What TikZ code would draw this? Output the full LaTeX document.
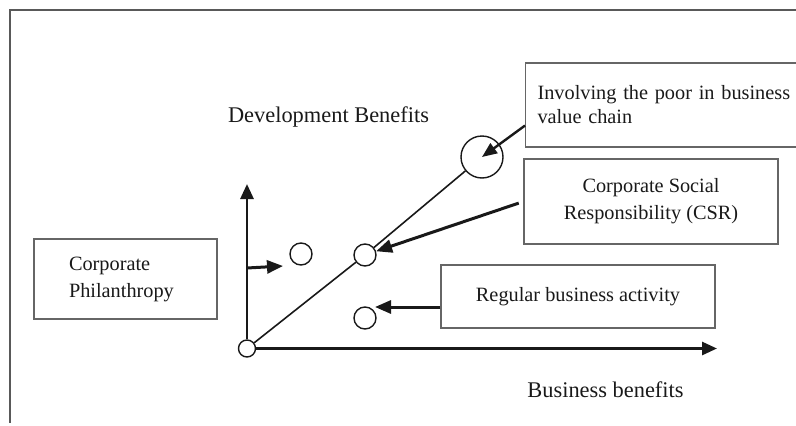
\documentclass[tikz,border=0pt]{standalone}
\usepackage{fontspec}
\setmainfont{Liberation Serif}
\usetikzlibrary{arrows.meta}
\begin{document}
\begin{tikzpicture}[x=1pt,y=-1pt,
  frame/.style={draw=black!65, line width=1.2pt},
  box/.style={draw=black!60, line width=1.1pt, inner sep=0pt, font=\fontsize{20.3}{27}\selectfont, text=black!90},
  ring/.style={circle, draw=black!90, line width=1.4pt, fill=white, inner sep=0pt},
  axis/.style={draw=black!90, line width=2.8pt, -{Triangle[length=15pt,width=13pt]}},
  pointer/.style={draw=black!90, line width=3pt, -{Triangle[length=16pt,width=13pt]}},
  thinpointer/.style={draw=black!90, line width=2.4pt, -{Triangle[length=15pt,width=12pt]}},
  diag/.style={draw=black!90, line width=1.6pt},
  lab/.style={font=\fontsize{22.4}{27}\selectfont, text=black!90}
]
\useasboundingbox (0,0) rectangle (796,426);

% frame
\coordinate (fa) at (10,10);
\coordinate (fb) at (797,10);
\coordinate (fc) at (10,423);
\draw[frame] (fb) -- (fa) -- (fc);

% boxes
\node[box, minimum width=183pt, minimum height=80pt, text width=113pt, inner xsep=35pt, align=left] (cp) at (125.5,279) {Corporate\\Philanthropy};
\node[box, minimum width=254pt, minimum height=85pt, align=center] (csr) at (651,201.5) {Corporate Social\\Responsibility (CSR)};
\node[box, minimum width=274pt, minimum height=63pt] (reg) at (578,296.5) {Regular business activity};
\node[box, anchor=west, minimum width=300pt, minimum height=84pt, text width=276pt, inner xsep=12pt, align=left, font=\fontsize{20.3}{24}\selectfont] (inv) at (525,105) {Involving the poor in business\\value chain};

% circles
\node[ring, minimum size=17pt] (o) at (247,348.5) {};
\node[ring, minimum size=22pt] (mid) at (365,255) {};
\node[ring, minimum size=22pt] (phil) at (301,254) {};
\node[ring, minimum size=22pt] (low) at (365,318) {};
\node[ring, minimum size=42pt] (big) at (482,157) {};

% axes
\coordinate (ytip) at (247,184);
\coordinate (xtip) at (717,348.5);
\draw[axis] (o.north) -- (ytip);
\draw[axis] (o.east) -- (xtip);

% diagonal
\draw[diag] (o) -- (mid);
\draw[diag] (mid) -- (big);

% pointers
\coordinate (pa) at (247,268);
\coordinate (pt) at (283,266);
\draw[pointer] (pa) -- (pt);
\draw[pointer, shorten <=5pt] (csr.west) -- (mid);
\draw[thinpointer] ([yshift=22pt]inv.south west) -- (big.center);
\coordinate (rt) at (375,307);
\draw[pointer] (reg.west |- rt) -- (rt);

% axis labels
\node[lab, anchor=base] (db) at (328.5,122) {Development Benefits};
\node[lab, anchor=base] (bb) at (605.5,397) {Business benefits};
\end{tikzpicture}
\end{document}
